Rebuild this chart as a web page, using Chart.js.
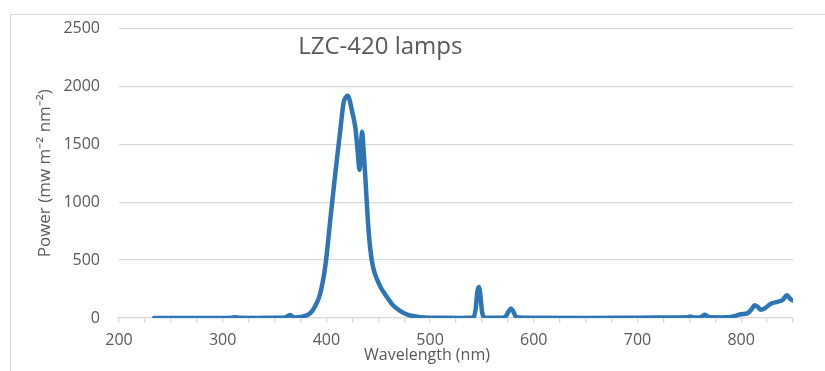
<!DOCTYPE html>
<html>
<head>
<meta charset="utf-8">
<script src="https://cdn.jsdelivr.net/npm/chart.js@4/dist/chart.umd.min.js"></script>
<style>
  html, body { margin: 0; padding: 0; background: #ffffff; }
  #wrap { position: relative; width: 825px; height: 371px; overflow: hidden; }
  #frame { position: absolute; left: 10px; top: 14px; width: 820px; height: 400px;
           border-left: 1px solid #d9d9d9; border-top: 1px solid #d9d9d9; box-sizing: border-box; }
  #c { position: absolute; left: 0; top: 0; }
</style>
</head>
<body>
<div id="wrap">
  <div id="frame"></div>
  <canvas id="c" width="825" height="371"></canvas>
</div>
<script>
const chartTitle = "LZC-420 lamps";
const xAxisTitle = "Wavelength (nm)";
const yAxisTitle = "Power (mw m\u207B\u00B2 nm\u207B\u00B2)";

const wavelengths = [234, 250, 280, 300, 308, 312, 316, 330, 350, 360, 363, 365, 367, 370, 375, 380, 384.5, 389, 394, 399, 403.8, 408.6, 413.4, 416.6, 419, 420.5, 422, 424.7, 428, 430, 432, 433.2, 434.4, 435.5, 437.6, 440, 442.4, 445, 449, 453, 458.5, 464, 471, 478, 487.5, 495, 510, 530, 540, 542, 544, 545.5, 547, 548.5, 550, 552, 560, 570, 573, 576, 578, 580, 583, 590, 650, 700, 740, 748, 751, 754, 760, 763, 765, 767, 770, 780, 790, 795, 800, 806, 810, 813, 816, 819, 823, 829, 835, 840, 844, 848, 850];
const power = [0, 0, 0, 0, 2, 6, 2, 1, 2, 5, 18, 25, 15, 4, 8, 20, 42, 100, 210, 450, 850, 1250, 1620, 1860, 1910, 1920, 1895, 1790, 1640, 1460, 1280, 1450, 1610, 1500, 1210, 840, 590, 440, 330, 255, 180, 112, 62, 30, 11, 4, 2, 1, 2, 5, 80, 220, 267, 200, 60, 5, 2, 2, 15, 60, 82, 60, 10, 2, 1, 3, 5, 6, 12, 5, 5, 18, 28, 16, 6, 5, 8, 20, 32, 40, 75, 110, 95, 72, 85, 125, 140, 155, 196, 160, 152];

const xMin = 200, xMax = 850, xTickStep = 25, xLabelStep = 100;
const yMin = 0, yMax = 2500, yStep = 500;

const textColor = '#595959';
const gridColor = '#d9d9d9';
const lineColor = '#2e75b6';
const fontFamily = "'Open Sans', 'Liberation Sans', sans-serif";

const overlayText = {
  id: 'overlayText',
  afterDraw(chart) {
    const {ctx, chartArea} = chart;
    ctx.save();
    ctx.fillStyle = textColor;
    ctx.textBaseline = 'middle';
    ctx.textAlign = 'center';
    ctx.font = "24px " + fontFamily;
    const xs = chart.scales.x;
    ctx.fillText(chartTitle, xs.getPixelForValue(452), chartArea.top + 19);
    ctx.font = "16px " + fontFamily;
    ctx.fillText(xAxisTitle, xs.getPixelForValue(497), chartArea.bottom + 37);
    ctx.restore();
  }
};

new Chart(document.getElementById('c'), {
  type: 'line',
  data: {
    datasets: [{
      data: wavelengths.map((w, i) => ({x: w, y: power[i]})),
      borderColor: lineColor,
      borderWidth: 4.5,
      pointRadius: 0,
      fill: false,
      cubicInterpolationMode: 'monotone',
      borderJoinStyle: 'round',
      borderCapStyle: 'round'
    }]
  },
  options: {
    responsive: false,
    animation: false,
    layout: { padding: { top: 25, right: 32, left: 0, bottom: 0 } },
    plugins: { legend: { display: false }, tooltip: { enabled: false }, title: { display: false } },
    scales: {
      x: {
        type: 'linear',
        min: xMin, max: xMax,
        afterBuildTicks(scale) {
          const t = [];
          for (let v = xMin; v <= xMax; v += xTickStep) t.push({value: v});
          scale.ticks = t;
        },
        afterFit(scale) { scale.height = 53; },
        grid: { drawOnChartArea: false, drawTicks: true, tickLength: 5, color: gridColor, lineWidth: 1.3 },
        border: { display: true, color: gridColor, width: 1.3 },
        ticks: {
          autoSkip: false, maxRotation: 0, padding: 8,
          color: textColor, font: { family: fontFamily, size: 16 },
          callback: (v) => (v % xLabelStep === 0 ? String(v) : '')
        },
        title: { display: false }
      },
      y: {
        min: yMin, max: yMax,
        afterFit(scale) { scale.width = 119; },
        grid: { color: gridColor, lineWidth: 1.3, drawTicks: false },
        border: { display: false },
        ticks: { stepSize: yStep, padding: 19, color: textColor, font: { family: fontFamily, size: 16 },
                 callback: (v) => String(v) },
        title: { display: true, text: yAxisTitle, color: textColor, font: { family: fontFamily, size: 17 }, padding: { top: 35, bottom: 0 } }
      }
    }
  },
  plugins: [overlayText]
});
</script>
</body>
</html>
